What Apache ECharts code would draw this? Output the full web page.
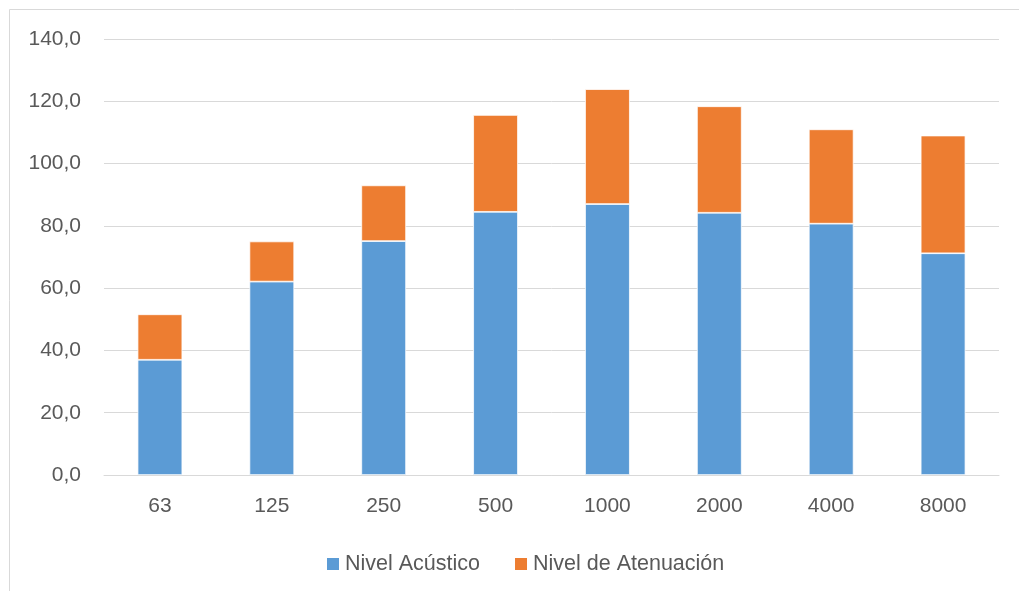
<!DOCTYPE html>
<html>
<head>
<meta charset="utf-8">
<script src="https://cdn.jsdelivr.net/npm/echarts@6/dist/echarts.min.js"></script>
<style>
  html, body { margin: 0; padding: 0; background: #fff; }
  #chart { width: 1019px; height: 591px; }
</style>
</head>
<body>
<div id="chart"></div>
<script>
// Octave-band centre frequencies (Hz)
const categories = ['63', '125', '250', '500', '1000', '2000', '4000', '8000'];
// Stacked components (dB)
const nivelAcustico = [37.0, 62.1, 75.1, 84.5, 87.0, 84.2, 80.7, 71.2];
const nivelAtenuacion = [14.6, 12.9, 17.9, 31.1, 36.9, 34.2, 30.3, 37.8];
const seriesNames = ['Nivel Acústico', 'Nivel de Atenuación'];

const FONT = "'Liberation Sans', Arial, sans-serif";
const TEXT = '#595959';
const LINE = '#d9d9d9';

const chart = echarts.init(document.getElementById('chart'), null, { renderer: 'canvas' });

chart.setOption({
  animation: false,
  backgroundColor: '#ffffff',
  textStyle: { fontFamily: FONT },
  graphic: [{
    type: 'rect',
    shape: { x: 9.5, y: 9.5, width: 1100, height: 700 },
    style: { fill: 'none', stroke: LINE, lineWidth: 1 },
    silent: true
  }],
  grid: { left: 104, right: 20, top: 39, bottom: 116, containLabel: false },
  legend: {
    left: 320,
    top: 548,
    itemWidth: 14,
    itemHeight: 14,
    itemGap: 33,
    icon: 'rect',
    textStyle: { color: TEXT, fontSize: 21.5, fontFamily: FONT },
    data: seriesNames
  },
  xAxis: {
    type: 'category',
    data: categories,
    axisLine: { lineStyle: { color: LINE, width: 1 } },
    axisTick: { show: false },
    axisLabel: { color: TEXT, fontSize: 21, fontFamily: FONT, margin: 21 }
  },
  yAxis: {
    type: 'value',
    min: 0,
    max: 140,
    interval: 20,
    axisLine: { show: false },
    axisTick: { show: false },
    splitLine: { lineStyle: { color: LINE, width: 1 } },
    axisLabel: {
      color: TEXT, fontSize: 21, fontFamily: FONT, margin: 23,
      formatter: v => v.toFixed(1).replace('.', ',')
    }
  },
  series: [
    {
      name: seriesNames[0],
      type: 'bar',
      stack: 'total',
      barWidth: '40%',
      data: nivelAcustico,
      itemStyle: { color: '#5B9BD5', borderColor: '#ffffff', borderWidth: 0.75 }
    },
    {
      name: seriesNames[1],
      type: 'bar',
      stack: 'total',
      barWidth: '40%',
      data: nivelAtenuacion,
      itemStyle: { color: '#ED7D31', borderColor: '#ffffff', borderWidth: 0.75 }
    }
  ]
});
</script>
</body>
</html>
